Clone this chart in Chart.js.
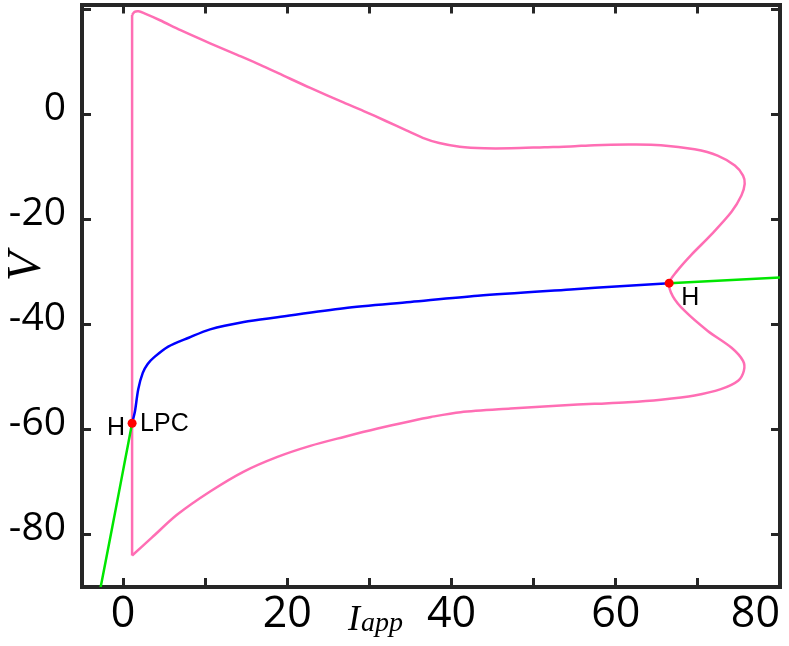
<!DOCTYPE html>
<html>
<head>
<meta charset="utf-8">
<script src="https://cdn.jsdelivr.net/npm/chart.js@4.4.1/dist/chart.umd.min.js"></script>
<style>
  html, body { margin: 0; padding: 0; background: #fff; overflow: hidden; }
  #wrap { position: relative; width: 789px; height: 646px; }
</style>
</head>
<body>
<div id="wrap"><canvas id="bifChart"></canvas></div>
<script>
// axis ticks (marks every 10 / 20, numbers only on some)
const xTickValues = [0, 10, 20, 30, 40, 50, 60, 70, 80];
const xTickLabels = [0, 20, 40, 60, 80];
const yTickValues = [-80, -60, -40, -20, 0, 20];
const yTickLabels = [-80, -60, -40, -20, 0];

// equilibrium curve: stable part left of the first Hopf point
const stableLowI = [1.1, 0.2, -0.8, -1.8, -2.8];
const stableLowV = [-58.8, -66.2, -74.4, -82.5, -90.6];

// equilibrium curve: unstable part between the two Hopf points
const unstableI = [1.1, 1.45, 1.85, 2.4, 3.0, 3.8, 5.5, 8.0, 10.6, 14.7, 18.8, 26.9, 35.0, 43.2, 54.5, 60.5, 66.5];
const unstableV = [-58.8, -56.5, -52.3, -49.2, -47.5, -46.2, -44.2, -42.5, -40.9, -39.5, -38.6, -36.9, -35.7, -34.5, -33.3, -32.7, -32.1];

// equilibrium curve: stable again after the second Hopf point
const stableHighI = [66.5, 80];
const stableHighV = [-32.1, -31.0];

// limit cycle max / min, from top of the jump round to its foot
const cycleI = [1.1, 1.4, 1.9, 2.6, 4.5, 7.0, 10.6, 13.9, 16.7, 19.6, 22.8, 26.9, 29.3, 32.0, 34.5, 36.5, 38.5, 41.0, 44.0, 47.2, 51.3, 54.5, 57.4, 61.5, 65.5, 69.6, 72.4, 74.5, 75.5, 75.7, 75.3, 74.1, 71.6, 69.2, 67.4, 66.5,
                66.95, 68.4, 71.2, 74.1, 75.5, 75.6, 74.9, 72.8, 69.6, 65.5, 61.5, 57.4, 53.3, 47.2, 41.1, 37.5, 35.0, 31.0, 26.9, 22.8, 18.8, 14.7, 10.6, 6.6, 3.5, 1.1];
const cycleV = [19.0, 19.6, 19.7, 19.3, 18.0, 16.1, 13.6, 11.4, 9.5, 7.4, 5.1, 2.3, 0.7, -1.2, -3.0, -4.4, -5.4, -6.1, -6.4, -6.4, -6.2, -6.05, -5.8, -5.7, -5.8, -6.6, -7.8, -9.7, -11.6, -13.2, -15.4, -18.5, -22.9, -26.7, -29.9, -32.1,
                -34.6, -37.4, -41.2, -44.4, -46.9, -48.8, -50.7, -52.3, -53.5, -54.3, -54.8, -55.1, -55.4, -56.0, -56.7, -57.6, -58.4, -59.8, -61.4, -63.1, -65.2, -68.0, -71.8, -76.2, -80.6, -84.0];

// special points (Hopf / LPC)
const specialI = [1.1, 66.5];
const specialV = [-58.8, -32.1];
const specialText = ['H', 'LPC', 'H'];
const specialOf = [0, 0, 1];

// label placement around the points (pixels)
const labelPlace = [
    { dx: -7, dy: 11.6, align: 'right' },
    { dx: 8, dy: 7.6, align: 'left' },
    { dx: 12, dy: 21.6, align: 'left' }
];

const axisColor = '#262626';

function pairs(xs, ys) {
    return xs.map((v, i) => ({ x: v, y: ys[i] }));
}

// fix the axis boxes so the plot area lands where the figure has it
function fixedSize(size) {
    return function(scale) {
        if (scale.isHorizontal()) scale.height = size;
        else scale.width = size;
        scale.paddingLeft = 0;
        scale.paddingRight = 0;
        scale.paddingTop = 0;
        scale.paddingBottom = 0;
    };
}

function useTicks(values, padMin) {
    return function(scale) {
        const list = padMin ? [scale.min].concat(values) : values;
        scale.ticks = list.map(v => ({ value: v }));
    };
}

const gridStyle = {
    drawOnChartArea: false,
    drawTicks: true,
    tickLength: -9,
    tickWidth: 3,
    tickColor: axisColor
};
const borderStyle = { color: axisColor, width: 4 };

const labelPlugin = {
    id: 'labelPlugin',
    afterDraw(chart) {
        const ctx = chart.ctx;
        const xs = chart.scales.x;
        const ys = chart.scales.y;
        ctx.save();
        ctx.fillStyle = '#000';
        ctx.textBaseline = 'alphabetic';
        ctx.font = '25px "Liberation Sans", Arial, sans-serif';
        specialText.forEach((txt, k) => {
            const i = specialOf[k];
            const p = labelPlace[k];
            ctx.textAlign = p.align;
            ctx.fillText(txt, xs.getPixelForValue(specialI[i]) + p.dx, ys.getPixelForValue(specialV[i]) + p.dy);
        });

        // x title, I with subscript app
        ctx.textAlign = 'left';
        ctx.font = 'italic 36px "Liberation Serif", serif';
        ctx.fillText('I', 348, 630);
        ctx.font = 'italic 28px "Liberation Serif", serif';
        ctx.fillText('app', 361, 631);

        // y title
        ctx.translate(27, 266.5);
        ctx.rotate(-Math.PI / 2);
        ctx.textAlign = 'center';
        ctx.textBaseline = 'middle';
        ctx.font = 'italic 48px "Liberation Serif", serif';
        ctx.fillText('V', 0, 0);
        ctx.restore();
    }
};

new Chart(document.getElementById('bifChart'), {
    type: 'scatter',
    data: {
        datasets: [
            {
                label: 'special',
                data: pairs(specialI, specialV),
                showLine: false,
                pointRadius: 4.5,
                pointBackgroundColor: '#ff0000',
                pointBorderWidth: 0
            },
            {
                label: 'stable low',
                data: pairs(stableLowI, stableLowV),
                showLine: true,
                borderColor: '#00e600',
                borderWidth: 2.5,
                pointRadius: 0,
                tension: 0.2
            },
            {
                label: 'unstable',
                data: pairs(unstableI, unstableV),
                showLine: true,
                borderColor: '#0000ff',
                borderWidth: 2.5,
                pointRadius: 0,
                tension: 0.3
            },
            {
                label: 'stable high',
                data: pairs(stableHighI, stableHighV),
                showLine: true,
                borderColor: '#00e600',
                borderWidth: 2.5,
                pointRadius: 0
            },
            {
                label: 'cycle',
                data: pairs(cycleI, cycleV),
                showLine: true,
                borderColor: '#ff6eb4',
                borderWidth: 2.5,
                pointRadius: 0,
                tension: 0.3
            },
            {
                label: 'cycle jump',
                data: pairs([cycleI[cycleI.length - 1], cycleI[0]], [cycleV[cycleV.length - 1], cycleV[0]]),
                showLine: true,
                borderColor: '#ff6eb4',
                borderWidth: 2.5,
                pointRadius: 0
            }
        ]
    },
    options: {
        responsive: true,
        maintainAspectRatio: false,
        animation: false,
        layout: { padding: 0 },
        plugins: {
            legend: { display: false },
            tooltip: { enabled: false }
        },
        scales: {
            x: {
                type: 'linear',
                position: 'bottom',
                min: -5,
                max: 80,
                afterFit: fixedSize(59),
                afterBuildTicks: useTicks(xTickValues, true),
                ticks: {
                    autoSkip: false,
                    maxRotation: 0,
                    align: 'inner',
                    padding: 11,
                    color: '#000',
                    font: { family: 'Open Sans', size: 43 },
                    callback: v => xTickLabels.includes(v) ? String(v) : ''
                },
                grid: gridStyle,
                border: borderStyle
            },
            x2: {
                type: 'linear',
                position: 'top',
                min: -5,
                max: 80,
                afterFit: fixedSize(1),
                afterBuildTicks: useTicks(xTickValues, false),
                ticks: { display: false },
                grid: gridStyle,
                border: borderStyle
            },
            y: {
                type: 'linear',
                position: 'left',
                min: -90,
                max: 21,
                afterFit: fixedSize(82),
                afterBuildTicks: useTicks(yTickValues, false),
                ticks: {
                    autoSkip: false,
                    padding: 25,
                    labelOffset: -6,
                    color: '#000',
                    font: { family: 'Open Sans', size: 39 },
                    callback: v => yTickLabels.includes(v) ? String(v) : ''
                },
                grid: gridStyle,
                border: borderStyle
            },
            y2: {
                type: 'linear',
                position: 'right',
                min: -90,
                max: 21,
                afterFit: fixedSize(9),
                afterBuildTicks: useTicks(yTickValues, false),
                ticks: { display: false },
                grid: gridStyle,
                border: borderStyle
            }
        }
    },
    plugins: [labelPlugin]
});
</script>
</body>
</html>
